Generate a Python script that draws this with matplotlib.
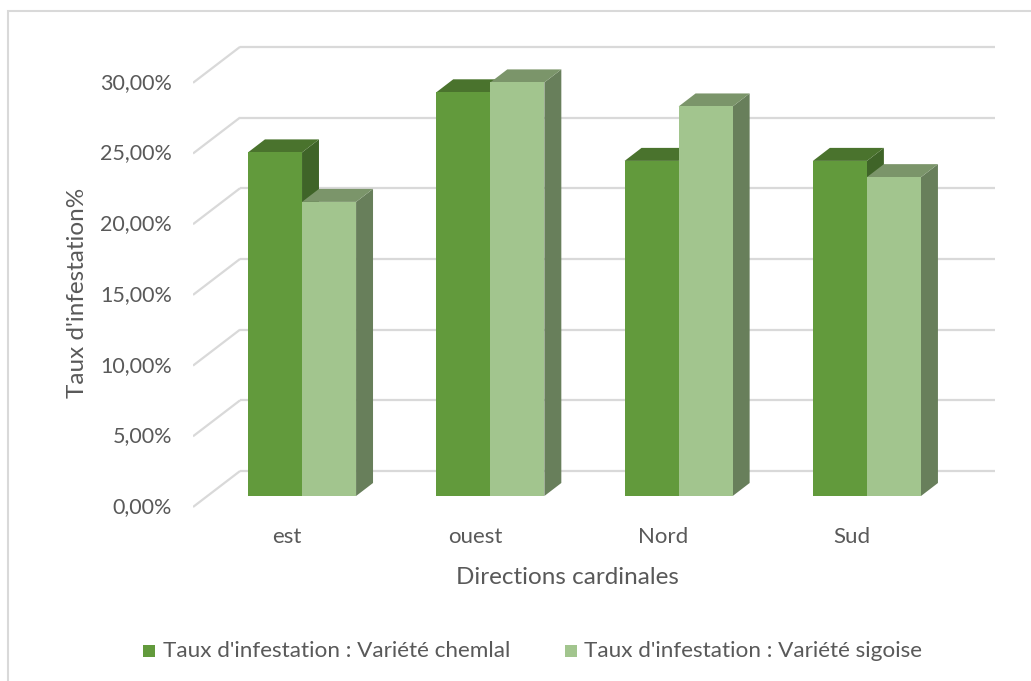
import matplotlib
matplotlib.use("Agg")
import matplotlib.pyplot as plt
from matplotlib.patches import Polygon, Rectangle
import numpy as np

plt.rcParams['font.family'] = ['Lato', 'DejaVu Sans']

categories = ["est", "ouest", "Nord", "Sud"]
chemlal = [24.3, 28.55, 23.7, 23.7]
sigoise = [20.8, 29.25, 27.55, 22.55]
series_names = ["Taux d'infestation : Variété chemlal",
                "Taux d'infestation : Variété sigoise"]
yticks = [0, 5, 10, 15, 20, 25, 30]
ytick_labels = ["0,00%", "5,00%", "10,00%", "15,00%", "20,00%", "25,00%", "30,00%"]

# face colours: front, top, side
col_chemlal = ("#629a3c", "#4a732d", "#3f6428")
col_sigoise = ("#a2c58e", "#7b956a", "#687f5b")
grid_col = "#d9d9d9"
text_col = "#595959"

W, H = 1031, 681
fig = plt.figure(figsize=(W / 100, H / 100), dpi=100)
fig.patch.set_facecolor("white")

# chart-area outline
fig.add_artist(Rectangle((8 / W, -0.1), 1.2, 1 - 11 / H + 0.1, transform=fig.transFigure,
                         fill=False, edgecolor="#d9d9d9", linewidth=1.5))

ax = fig.add_axes([193 / W, 1 - 510 / H, (995 - 193) / W, (510 - 40) / H])
ax.set_xlim(-0.579, 3.680)
ax.set_ylim(-0.99, 32.25)
ax.axis("off")

# perspective offsets (x in category units, y in percent units)
bar_w = 0.287
bar_dx, bar_dy = 0.090, 0.92
back_dy = 1.768
front_dx, front_dy = -0.579, -0.778
back_x0, back_x1 = -0.329, 3.680

# gridlines: back wall plus side floor stub, with value labels at the front edge
for v, lab in zip(yticks, ytick_labels):
    ax.plot([back_x0, back_x1], [v + back_dy, v + back_dy], color=grid_col, lw=1.6,
            zorder=1, solid_capstyle="butt")
    ax.plot([front_dx, back_x0], [v + front_dy, v + back_dy], color=grid_col, lw=1.6,
            zorder=1, solid_capstyle="butt")
    ax.text(-0.690, v + front_dy, lab, ha="right", va="center", fontsize=15.5,
            color=text_col, clip_on=False)


def draw_box(x0, h, cols, z):
    x1 = x0 + bar_w
    front, top, side = cols
    ax.add_patch(Polygon([(x1, 0), (x1 + bar_dx, bar_dy), (x1 + bar_dx, h + bar_dy), (x1, h)],
                         closed=True, facecolor=side, edgecolor="none", zorder=z))
    ax.add_patch(Polygon([(x0, h), (x0 + bar_dx, h + bar_dy), (x1 + bar_dx, h + bar_dy), (x1, h)],
                         closed=True, facecolor=top, edgecolor="none", zorder=z))
    ax.bar(x0, h, width=bar_w, align="edge", color=front, edgecolor="none", zorder=z + 0.1)


x = np.arange(len(categories))
for i in range(len(categories)):
    draw_box(x[i] - bar_w, chemlal[i], col_chemlal, 2 + i)
    draw_box(x[i], sigoise[i], col_sigoise, 2.5 + i)

for i, c in enumerate(categories):
    ax.text(x[i] - 0.08, -2.9, c, ha="center", va="center", fontsize=16,
            color=text_col, clip_on=False)

fig.text(567 / W, 1 - 577 / H, "Directions cardinales", ha="center", va="center",
         fontsize=17.5, color=text_col)
fig.text(77 / W, 1 - 293 / H, "Taux d'infestation%", ha="center", va="center",
         rotation=90, fontsize=17.5, color=text_col)

# legend
leg_y = 1 - 651 / H
for sx, tx, col, name in [(143, 163, col_chemlal[0], series_names[0]),
                          (565, 584, col_sigoise[0], series_names[1])]:
    fig.add_artist(Rectangle((sx / W, leg_y - 6 / H), 12 / W, 12 / H,
                             transform=fig.transFigure, facecolor=col, edgecolor="none"))
    fig.text(tx / W, leg_y, name, ha="left", va="center", fontsize=16.2, color=text_col)

fig.savefig("out.png", dpi=100)
